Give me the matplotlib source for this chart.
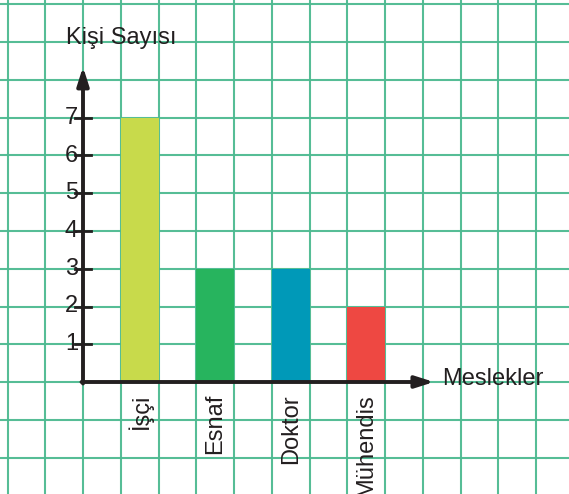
import matplotlib.pyplot as plt
from matplotlib.ticker import MultipleLocator

meslekler = ['İşçi', 'Esnaf', 'Doktor', 'Mühendis']
kisi_sayisi = [7, 3, 3, 2]
bar_colors = ['#C8DA4B', '#27B45E', '#0099B8', '#EE4842']
y_ticks = [1, 2, 3, 4, 5, 6, 7]

plt.rcParams['font.family'] = ['Liberation Sans', 'DejaVu Sans']

fig = plt.figure(figsize=(5.69, 4.94), dpi=100)
ax = fig.add_axes([0, 0, 1, 1])

# one grid square = 37.75 px, origin at pixel (83, 382)
s = 37.75
ax.set_xlim(-83 / s, (569 - 83) / s)
ax.set_ylim(-(494 - 382) / s, 382 / s)

# squared paper
ax.xaxis.set_major_locator(MultipleLocator(1))
ax.yaxis.set_major_locator(MultipleLocator(1))
ax.grid(True, color='#4DBA91', linewidth=1.5, alpha=0.95)
ax.set_axisbelow(True)
ax.tick_params(length=0, labelbottom=False, labelleft=False)
for sp in ax.spines.values():
    sp.set_visible(False)

# bars, one grid square wide, every other square
pos = [1.5 + 2 * i for i in range(len(meslekler))]
ax.bar(pos, kisi_sayisi, width=1.0, color=bar_colors, zorder=3)

# axes with arrows
arrow = dict(arrowstyle='-|>,head_length=1.1,head_width=0.35',
             color='#231F20', lw=2.8, shrinkA=0, shrinkB=0)
ax.annotate('', xy=(0, 8.35), xytext=(0, -0.04), arrowprops=arrow, zorder=5)
ax.annotate('', xy=(9.3, 0), xytext=(-0.04, 0), arrowprops=arrow, zorder=5)

# y ticks and labels
for v in y_ticks:
    ax.plot([-0.2, 0.2], [v, v], color='#231F20', lw=2, zorder=5)
    ax.text(-0.13, v, str(v), ha='right', va='center', fontsize=17, color='#231F20')

# category labels
for p, m in zip(pos, meslekler):
    ax.text(p, -0.32, m, rotation=90, ha='center', va='top', fontsize=17, color='#231F20')

ax.text(1.0, 9.12, 'Kişi Sayısı', ha='center', va='center', fontsize=17, color='#231F20')
ax.text(9.5, 0.08, 'Meslekler', ha='left', va='center', fontsize=17, color='#231F20')

plt.savefig('out.png', dpi=100)
